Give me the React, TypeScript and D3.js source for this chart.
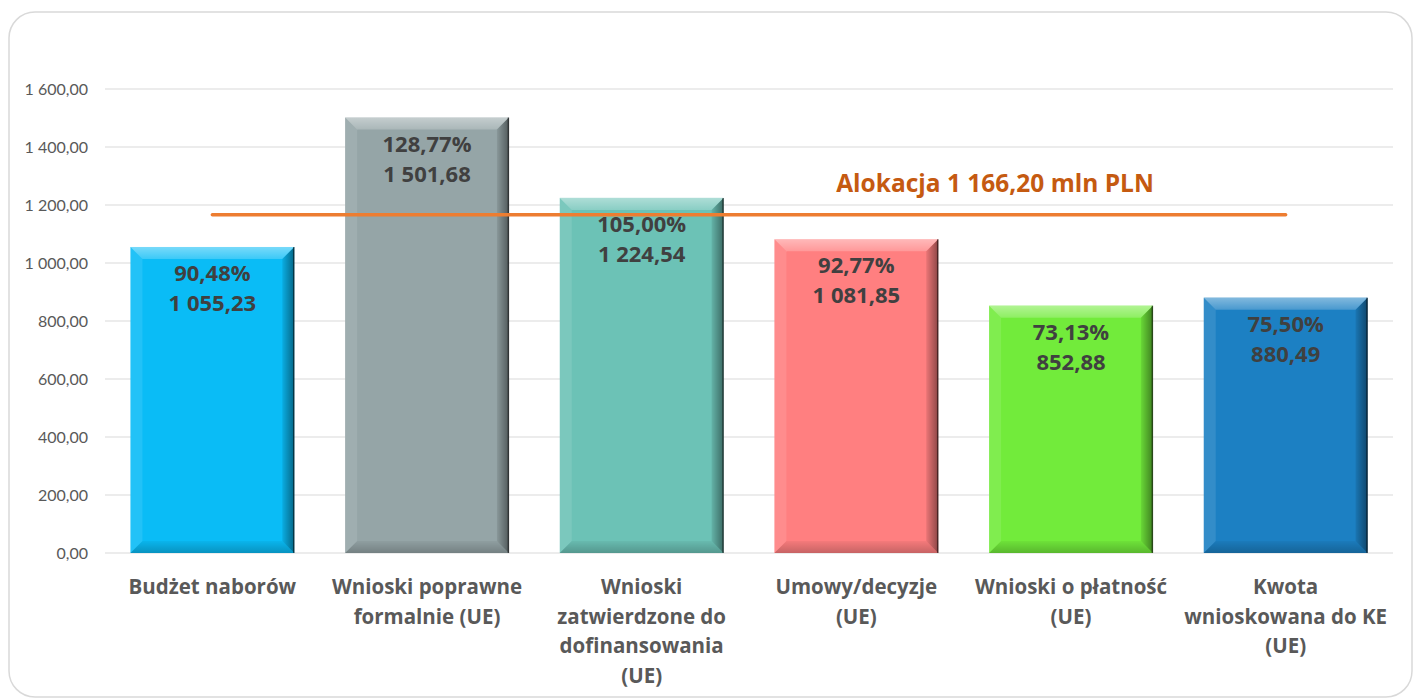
import React from "react";
import * as d3 from "d3";

const categories = [
  ["Budżet naborów"],
  ["Wnioski poprawne", "formalnie (UE)"],
  ["Wnioski", "zatwierdzone do", "dofinansowania", "(UE)"],
  ["Umowy/decyzje", "(UE)"],
  ["Wnioski o płatność", "(UE)"],
  ["Kwota", "wnioskowana do KE", "(UE)"],
];
const values = [1055.23, 1501.68, 1224.54, 1081.85, 852.88, 880.49];
const percents = ["90,48%", "128,77%", "105,00%", "92,77%", "73,13%", "75,50%"];
const valueLabels = ["1 055,23", "1 501,68", "1 224,54", "1 081,85", "852,88", "880,49"];
const barColors = ["#0ABCF6", "#95A5A7", "#6CC2B6", "#FF7F80", "#72EB3B", "#1C80C3"];
const yTicks = [0, 200, 400, 600, 800, 1000, 1200, 1400, 1600];
const allocation = 1166.2;
const allocationLabel = "Alokacja 1 166,20 mln PLN";

const fmtTick = (v: number) => {
  const s = v.toFixed(2).replace(".", ",");
  const [i, d] = s.split(",");
  return i.replace(/\B(?=(\d{3})+(?!\d))/g, " ") + "," + d;
};

export default function App() {
  const W = 1413, H = 698;
  const left = 105, right = 1393, top = 89, bottom = 553;
  const ids = categories.map((_, i) => String(i));
  const x = d3.scaleBand().domain(ids).range([left, right]).paddingInner(0.237).paddingOuter(0.1186);
  const y = d3.scaleLinear().domain([0, 1600]).range([bottom, top]);
  const font = "Lato, 'Open Sans', sans-serif";
  const labelFont = "'Open Sans', Lato, sans-serif";
  const b = 12;

  const first = x(ids[0])! + x.bandwidth() / 2;
  const last = x(ids[ids.length - 1])! + x.bandwidth() / 2;

  return (
    <svg width={W} height={H} style={{ position: "absolute", left: 0, top: 0 }} fontFamily={font}>
      <defs>
        <linearGradient id="rightShade" x1="0" x2="1" y1="0" y2="0">
          <stop offset="0" stopColor="#000" stopOpacity="0.08" />
          <stop offset="1" stopColor="#000" stopOpacity="0.45" />
        </linearGradient>
        <linearGradient id="topShine" x1="0" x2="0" y1="0" y2="1">
          <stop offset="0" stopColor="#fff" stopOpacity="0.45" />
          <stop offset="1" stopColor="#fff" stopOpacity="0.2" />
        </linearGradient>
        <linearGradient id="bottomShade" x1="0" x2="0" y1="0" y2="1">
          <stop offset="0" stopColor="#000" stopOpacity="0.04" />
          <stop offset="1" stopColor="#000" stopOpacity="0.22" />
        </linearGradient>
      </defs>
      <rect x={9} y={12} width={1403} height={685} rx={26} fill="#fff" stroke="#D9D9D9" strokeWidth={1.5} />
      {yTicks.map((t) => (
        <g key={t}>
          <line x1={left} x2={right} y1={y(t)} y2={y(t)} stroke="#D9D9D9" strokeWidth={1.2} />
          <text x={88} y={y(t) + 5.5} textAnchor="end" fontSize={16} fill="#595959">{fmtTick(t)}</text>
        </g>
      ))}
      {values.map((v, i) => {
        const bx = x(ids[i])!, bw = x.bandwidth();
        const by = y(v), bh = y(0) - y(v);
        const pts = (p: number[][]) => p.map((q) => q.join(",")).join(" ");
        return (
          <g key={i}>
            <rect x={bx} y={by} width={bw} height={bh} fill={barColors[i]} />
            <polygon points={pts([[bx, by], [bx + bw, by], [bx + bw - b, by + b], [bx + b, by + b]])} fill="url(#topShine)" />
            <polygon points={pts([[bx, by], [bx + b, by + b], [bx + b, by + bh - b], [bx, by + bh]])} fill="#fff" fillOpacity={0.1} />
            <polygon points={pts([[bx + bw, by], [bx + bw, by + bh], [bx + bw - b, by + bh - b], [bx + bw - b, by + b]])} fill="url(#rightShade)" />
            <polygon points={pts([[bx, by + bh], [bx + bw, by + bh], [bx + bw - b, by + bh - b], [bx + b, by + bh - b]])} fill="url(#bottomShade)" />
            <line x1={bx + bw - 0.5} x2={bx + bw - 0.5} y1={by} y2={by + bh} stroke="#000" strokeOpacity={0.5} strokeWidth={1.5} />
            <text x={bx + bw / 2} y={by + 34} textAnchor="middle" fontFamily={labelFont} fontSize={22} fontWeight={700} fill="#404040">{percents[i]}</text>
            <text x={bx + bw / 2} y={by + 64} textAnchor="middle" fontFamily={labelFont} fontSize={22} fontWeight={700} fill="#404040">{valueLabels[i]}</text>
          </g>
        );
      })}
      <line x1={first} x2={last} y1={y(allocation)} y2={y(allocation)} stroke="#ED7D31" strokeWidth={3.5} strokeLinecap="round" />
      <text x={995} y={192} textAnchor="middle" fontFamily={labelFont} fontSize={24.5} fontWeight={700} fill="#C55A11">{allocationLabel}</text>
      {categories.map((lines, i) => (
        <text key={i} textAnchor="middle" fontFamily={labelFont} fontSize={20.5} fontWeight={700} fill="#595959">
          {lines.map((l, j) => (
            <tspan key={j} x={x(ids[i])! + x.bandwidth() / 2} y={594 + j * 29.5}>{l}</tspan>
          ))}
        </text>
      ))}
    </svg>
  );
}
